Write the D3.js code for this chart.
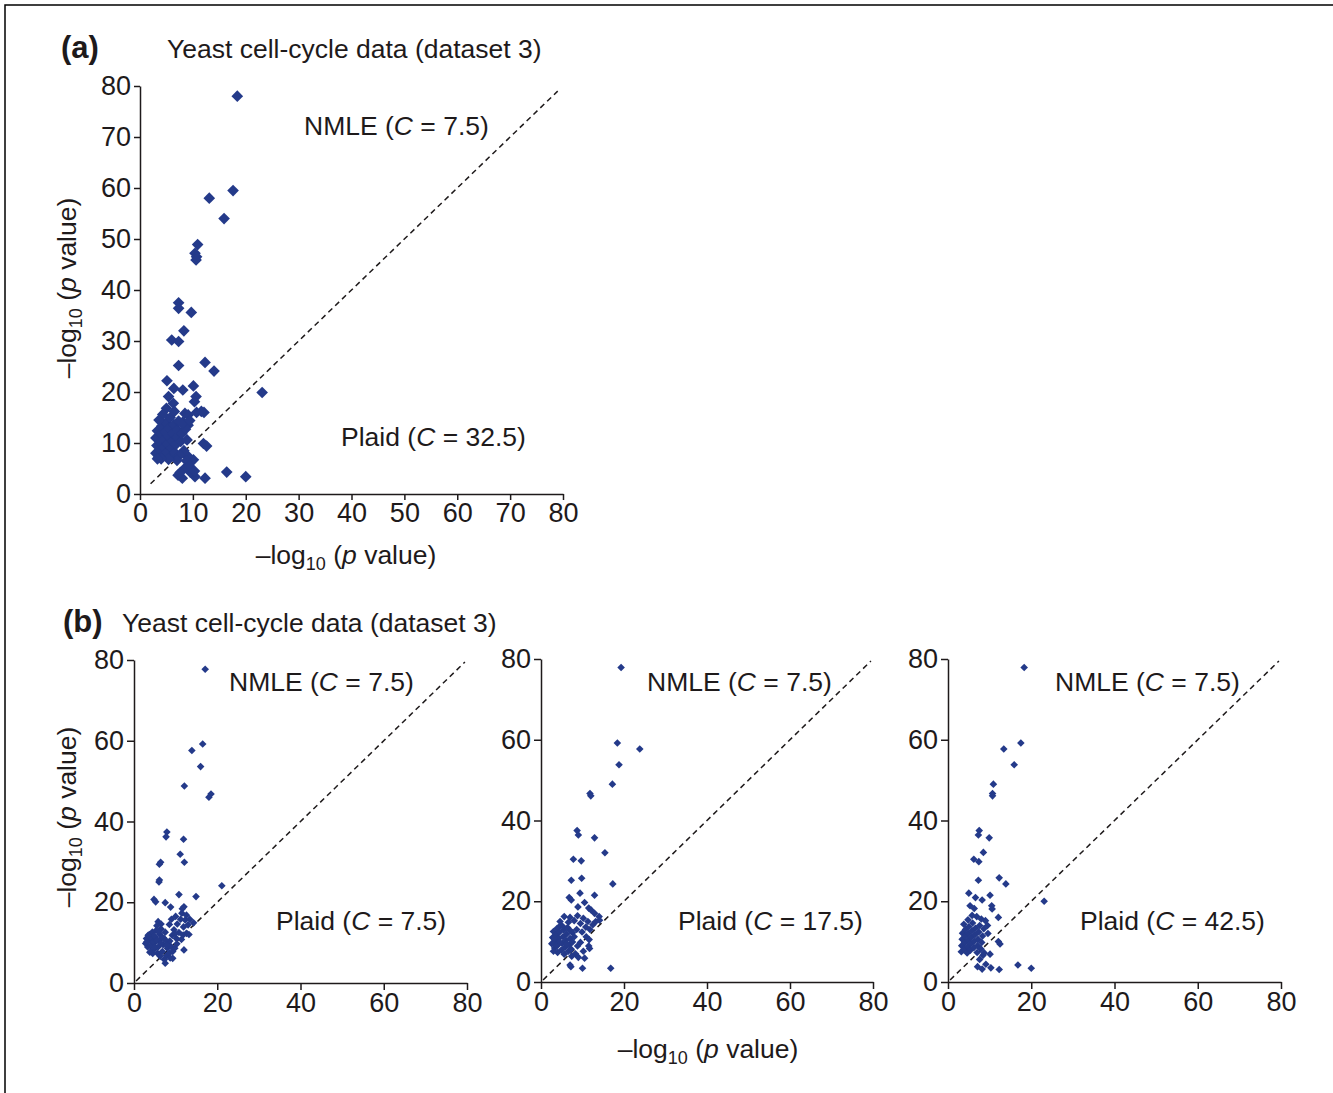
<!DOCTYPE html>
<meta charset="utf-8">
<style>

body { margin: 0; background: #fff; }

svg text {
    font-family: "Liberation Sans", Arial, Helvetica, sans-serif;
    fill: #1e1a1b;
}

.axis path,
.axis line {
    fill: none;
    stroke: #1e1a1b;
    stroke-width: 1.5;
}

</style>
<body>

<script src="https://d3js.org/d3.v7.min.js"></script>

<script>

// Tick values for the two layouts
var ticksA = [0, 10, 20, 30, 40, 50, 60, 70, 80];
var ticksB = [0, 20, 40, 60, 80];
var axisDomain = [0, 80];

// Ends of the dashed y = x line
var diagA = [2, 79];
var diagB = [0.5, 79.5];

// Cluster sizes (C) shown in the annotations
var nmleC = "7.5";
var plaidC = ["32.5", "7.5", "17.5", "42.5"];

// [plaid -log10 p, NMLE -log10 p]
// (a) Plaid C = 32.5
var pointsA = [
    [18.4, 78], [17.6, 59.5], [13.1, 58], [15.9, 54], [10.9, 48.9], [10.4, 47.2], [10.7, 46.5], [10.6, 45.9],
    [7.3, 37.5], [7.3, 36.4], [9.7, 35.6], [8.3, 32], [6.0, 30.2], [7.3, 29.9], [7.3, 25.2], [12.3, 25.8],
    [14.0, 24.1], [5.1, 22.2], [6.4, 20.7], [8.1, 20.4], [10.1, 21.2], [23.1, 19.9], [10.6, 19.1], [10.3, 18.1],
    [5.4, 19.1], [6.3, 17.8], [12.1, 16.0], [12.0, 9.9], [12.6, 9.4], [10.1, 6.7], [16.4, 4.3], [20.0, 3.4],
    [12.3, 3.1], [10.4, 3.4], [7.2, 3.7], [8.0, 3.1], [9.5, 4.3], [8.6, 5.2], [9.0, 7.5], [8.3, 8.5],
    [8.2, 8.0], [8.8, 6.5], [9.3, 5.5], [7.6, 4.2], [10.3, 4.5],
    [8.5, 15.8], [9.1, 15.5], [10.7, 16.0], [11.6, 16.2], [8.1, 14.1], [9.1, 13.5],
    [3.0, 8.0], [3.2, 9.5], [3.0, 11.0], [3.3, 12.4], [3.5, 7.2], [3.8, 8.7], [3.9, 10.2], [4.0, 11.8],
    [4.1, 13.3], [4.4, 7.6], [4.5, 9.1], [4.6, 10.7], [4.8, 12.2], [4.9, 14.0], [5.1, 8.2], [5.2, 9.8],
    [5.4, 11.3], [5.5, 12.9], [5.7, 15.0], [5.8, 7.3], [6.0, 9.0], [6.1, 10.4], [6.2, 11.9], [6.4, 13.6],
    [6.6, 8.1], [6.8, 9.7], [7.0, 11.2], [7.1, 12.6], [7.3, 14.3], [7.5, 7.6], [7.7, 10.3], [7.9, 11.8],
    [6.5, 16.2], [5.0, 16.8], [4.3, 15.6], [3.6, 14.5], [8.6, 12.7], [8.0, 13.8], [9.4, 14.4], [8.9, 10.6],
    [7.0, 6.6], [5.4, 6.8], [4.0, 6.9], [3.3, 6.9]
];

// (b) Plaid C = 7.5
var pointsB1 = [
    [17.1, 77.7], [16.5, 59.2], [13.9, 57.6], [16.0, 53.6], [12.1, 48.8], [18.5, 46.8], [18.0, 46.0], [7.9, 37.4],
    [7.7, 36.2], [11.9, 35.6], [11.1, 31.9], [12.1, 29.9], [6.4, 29.9], [6.1, 29.4], [6.1, 25.5], [6.0, 25.0],
    [21.1, 24.1], [10.8, 21.9], [14.9, 21.4], [4.8, 20.7], [5.2, 20.1], [7.5, 19.9], [8.8, 18.8], [12.0, 18.9],
    [11.6, 18.4], [5.8, 15.2], [6.5, 14.6], [14.3, 14.9], [12.0, 8.2], [7.5, 4.9], [9.3, 6.1],
    [8.5, 14.5], [9.0, 15.8], [9.6, 13.2], [10.0, 16.5], [10.4, 14.6], [10.8, 12.5], [11.2, 15.8], [11.5, 17.3],
    [11.9, 13.9], [12.3, 15.6], [12.6, 16.8], [13.0, 14.4], [13.4, 15.8], [10.2, 11.0], [11.4, 10.8], [12.6, 12.3],
    [9.2, 11.8], [8.6, 10.4], [13.2, 12.0], [11.8, 11.9],
    [2.8, 9.8], [3.0, 11.0], [3.3, 8.9], [3.5, 10.4], [3.7, 12.0], [4.0, 9.2], [4.2, 10.8], [4.4, 12.6],
    [4.7, 8.3], [4.9, 9.9], [5.1, 11.4], [5.3, 13.0], [5.6, 7.4], [5.8, 8.9], [6.0, 10.5], [6.2, 12.1],
    [6.5, 13.4], [6.8, 7.8], [7.0, 9.5], [7.2, 11.1], [7.5, 12.6], [7.8, 6.8], [8.0, 8.6], [8.2, 10.0],
    [8.5, 7.4], [8.9, 9.0], [9.3, 7.8], [7.3, 5.8], [8.7, 6.2], [9.8, 8.6], [4.5, 7.3], [3.8, 7.6],
    [6.3, 6.6], [5.5, 14.2], [9.9, 12.2], [10.3, 9.7], [3.1, 10.2], [3.9, 11.3], [4.6, 10.1], [5.4, 10.6],
    [6.5, 9.8], [7.6, 10.6], [5.9, 12.8], [4.8, 11.7], [6.7, 11.4], [7.9, 9.3], [3.4, 11.8], [5.0, 8.9]
];

// (b) Plaid C = 17.5
var pointsB2 = [
    [19.3, 77.9], [18.4, 59.2], [23.8, 57.7], [18.8, 53.8], [17.2, 49.0], [11.8, 46.7], [12.0, 46.1], [8.7, 37.5],
    [9.0, 36.4], [12.9, 35.7], [15.4, 32.0], [7.8, 30.4], [9.7, 30.0], [7.3, 25.2], [9.8, 25.7], [17.3, 24.3],
    [9.4, 22.0], [12.9, 21.5], [6.8, 20.9], [7.3, 20.3], [8.9, 18.6], [10.5, 19.7], [11.5, 18.3], [12.1, 17.8],
    [12.9, 17.0], [14.0, 16.2], [14.1, 15.3], [16.8, 3.4], [7.2, 3.8], [7.0, 4.2], [10.0, 3.4], [10.5, 5.9],
    [11.5, 8.9], [11.7, 8.3],
    [7.0, 16.0], [8.0, 15.2], [8.8, 16.4], [9.5, 14.5], [10.2, 15.8], [10.8, 13.6], [11.3, 15.0], [11.8, 13.0],
    [12.5, 14.2], [13.2, 15.0], [9.9, 12.4], [10.9, 11.2], [8.6, 13.0], [7.6, 12.2], [11.6, 10.5], [6.6, 14.8],
    [5.6, 16.2], [4.6, 15.0],
    [2.6, 9.5], [2.8, 11.0], [3.0, 12.5], [3.3, 8.4], [3.5, 10.2], [3.7, 11.7], [3.9, 13.3], [4.1, 9.2],
    [4.3, 10.8], [4.5, 12.4], [4.7, 14.0], [4.9, 7.9], [5.1, 9.6], [5.3, 11.2], [5.5, 12.9], [5.8, 8.6],
    [6.0, 10.3], [6.2, 11.9], [6.4, 13.5], [6.6, 7.6], [6.8, 9.2], [7.0, 10.8], [7.3, 8.1], [7.6, 9.9],
    [8.0, 11.2], [8.3, 7.0], [8.8, 8.9], [9.5, 9.8], [10.2, 7.6], [9.0, 6.1], [7.4, 6.4], [4.0, 7.3],
    [5.6, 6.9], [3.0, 7.6], [3.2, 10.9], [4.4, 9.9], [5.2, 13.8], [6.1, 9.4], [7.1, 12.7], [3.6, 9.0]
];

// (b) Plaid C = 42.5
var pointsB3 = [
    [18.3, 77.9], [17.5, 59.2], [13.4, 57.7], [15.9, 53.8], [10.9, 49.0], [10.7, 46.7], [10.7, 46.1], [7.5, 37.5],
    [7.3, 36.4], [9.9, 35.7], [8.5, 32.1], [6.2, 30.4], [7.4, 29.8], [7.3, 25.2], [12.3, 25.8], [13.9, 24.3],
    [5.0, 22.0], [6.6, 20.9], [8.2, 20.3], [10.1, 21.5], [23.1, 20.0], [10.5, 18.9], [10.6, 18.1], [5.3, 18.9],
    [6.3, 18.2], [12.1, 16.0], [12.1, 10.0], [12.5, 9.4], [10.1, 6.9], [16.8, 4.2], [20.0, 3.4], [12.3, 3.1],
    [10.3, 3.5], [7.1, 3.8], [8.2, 3.2], [9.1, 4.4], [8.4, 6.6],
    [3.2, 7.5], [3.3, 9.0], [3.4, 10.6], [3.5, 12.1], [3.9, 8.2], [4.0, 9.8], [4.1, 11.4], [4.2, 13.0],
    [4.6, 7.2], [4.7, 8.8], [4.8, 10.4], [4.9, 12.0], [5.0, 13.7], [5.4, 7.9], [5.5, 9.5], [5.6, 11.1],
    [5.8, 12.7], [5.9, 14.6], [6.2, 8.5], [6.3, 10.1], [6.5, 11.7], [6.6, 13.3], [7.0, 7.3], [7.1, 9.0],
    [7.2, 10.6], [7.4, 12.4], [7.6, 14.0], [7.9, 8.2], [8.1, 9.8], [8.3, 11.4], [8.6, 13.2], [9.0, 15.2],
    [8.0, 15.6], [6.9, 16.2], [5.8, 16.5], [4.8, 15.4], [9.5, 14.0], [9.6, 12.0], [8.7, 7.2], [7.6, 5.6],
    [3.8, 14.3]
];

var pointColor = "#243a8a";
var fontSize = 26.5;

var svg = d3.select("body")
    .append("svg")
        .attr("width", 1333)
        .attr("height", 1093);

// frame of the figure (only top and left edges show)
svg.append("rect")
    .attr("x", 5)
    .attr("y", 5)
    .attr("width", 1400)
    .attr("height", 1200)
    .attr("fill", "none")
    .attr("stroke", "#000")
    .attr("stroke-width", 1.5);

// -log10 (p value) with subscript
function logLabel(text) {
    text.append("tspan").text("\u2013log");
    text.append("tspan").attr("font-size", 18).attr("dy", 6).text("10");
    text.append("tspan").attr("dy", -6).text(" (");
    text.append("tspan").attr("font-style", "italic").text("p");
    text.append("tspan").text(" value)");
}

function cLabel(text, name, c) {
    text.append("tspan").text(name + " (");
    text.append("tspan").attr("font-style", "italic").text("C");
    text.append("tspan").text(" = " + c + ")");
}

function panel(p) {
    var x = d3.scaleLinear().domain(axisDomain).range([0, p.w]);
    var y = d3.scaleLinear().domain(axisDomain).range([p.h, 0]);

    var g = svg.append("g")
        .attr("transform", "translate(" + p.left + "," + p.top + ")");

    g.append("line")
        .attr("x1", x(p.diag[0]))
        .attr("y1", y(p.diag[0]))
        .attr("x2", x(p.diag[1]))
        .attr("y2", y(p.diag[1]))
        .attr("stroke", "#1e1a1b")
        .attr("stroke-width", 1.5)
        .attr("stroke-dasharray", "5.5,4");

    var diamond = d3.symbol().type(d3.symbolSquare).size(p.size);

    g.selectAll("path.dot")
        .data(p.data)
      .enter().append("path")
        .attr("class", "dot")
        .attr("d", diamond)
        .attr("fill", pointColor)
        .attr("transform", function(d) {
            return "translate(" + x(d[0]) + "," + y(d[1]) + ") rotate(45)";
        });

    var xAxis = d3.axisBottom(x)
        .tickValues(p.ticks)
        .tickSize(p.tick)
        .tickSizeOuter(0)
        .tickPadding(3);

    var yAxis = d3.axisLeft(y)
        .tickValues(p.ticks)
        .tickSize(p.tick)
        .tickSizeOuter(0)
        .tickPadding(3);

    g.append("g")
        .attr("class", "x axis")
        .attr("transform", "translate(0," + p.h + ")")
        .call(xAxis);

    g.append("g")
        .attr("class", "y axis")
        .call(yAxis);

    g.selectAll(".axis text")
        .attr("font-size", 27)
        .attr("font-family", null)
        .style("fill", "#1e1a1b");

    g.append("text")
        .attr("x", p.nmle[0])
        .attr("y", p.nmle[1])
        .attr("font-size", fontSize)
        .call(cLabel, "NMLE", nmleC);

    g.append("text")
        .attr("x", p.plaid[0])
        .attr("y", p.plaid[1])
        .attr("font-size", fontSize)
        .call(cLabel, "Plaid", p.c);
}

panel({ left: 140, top: 86, w: 423, h: 408, ticks: ticksA, tick: 6, size: 68, diag: diagA,
        data: pointsA, c: plaidC[0], nmle: [164, 49], plaid: [201, 360] });
panel({ left: 134, top: 660, w: 333, h: 323, ticks: ticksB, tick: 7, size: 29, diag: diagB,
        data: pointsB1, c: plaidC[1], nmle: [95, 31], plaid: [142, 270] });
panel({ left: 541, top: 659, w: 332, h: 323, ticks: ticksB, tick: 7, size: 29, diag: diagB,
        data: pointsB2, c: plaidC[2], nmle: [106, 32], plaid: [137, 271] });
panel({ left: 948, top: 659, w: 333, h: 323, ticks: ticksB, tick: 7, size: 29, diag: diagB,
        data: pointsB3, c: plaidC[3], nmle: [107, 32], plaid: [132, 271] });

// titles
svg.append("text")
    .attr("x", 61)
    .attr("y", 58)
    .attr("font-size", 31)
    .attr("font-weight", "bold")
    .text("(a)");

svg.append("text")
    .attr("x", 167)
    .attr("y", 58)
    .attr("font-size", fontSize)
    .text("Yeast cell-cycle data (dataset 3)");

svg.append("text")
    .attr("x", 63)
    .attr("y", 632)
    .attr("font-size", 31)
    .attr("font-weight", "bold")
    .text("(b)");

svg.append("text")
    .attr("x", 122)
    .attr("y", 632)
    .attr("font-size", fontSize)
    .text("Yeast cell-cycle data (dataset 3)");

// axis labels
svg.append("text")
    .attr("x", 346)
    .attr("y", 564)
    .attr("text-anchor", "middle")
    .attr("font-size", fontSize)
    .call(logLabel);

svg.append("text")
    .attr("transform", "translate(76,288) rotate(-90)")
    .attr("text-anchor", "middle")
    .attr("font-size", fontSize)
    .call(logLabel);

svg.append("text")
    .attr("transform", "translate(76,817) rotate(-90)")
    .attr("text-anchor", "middle")
    .attr("font-size", fontSize)
    .call(logLabel);

svg.append("text")
    .attr("x", 708)
    .attr("y", 1058)
    .attr("text-anchor", "middle")
    .attr("font-size", fontSize)
    .call(logLabel);

</script>
</body>
